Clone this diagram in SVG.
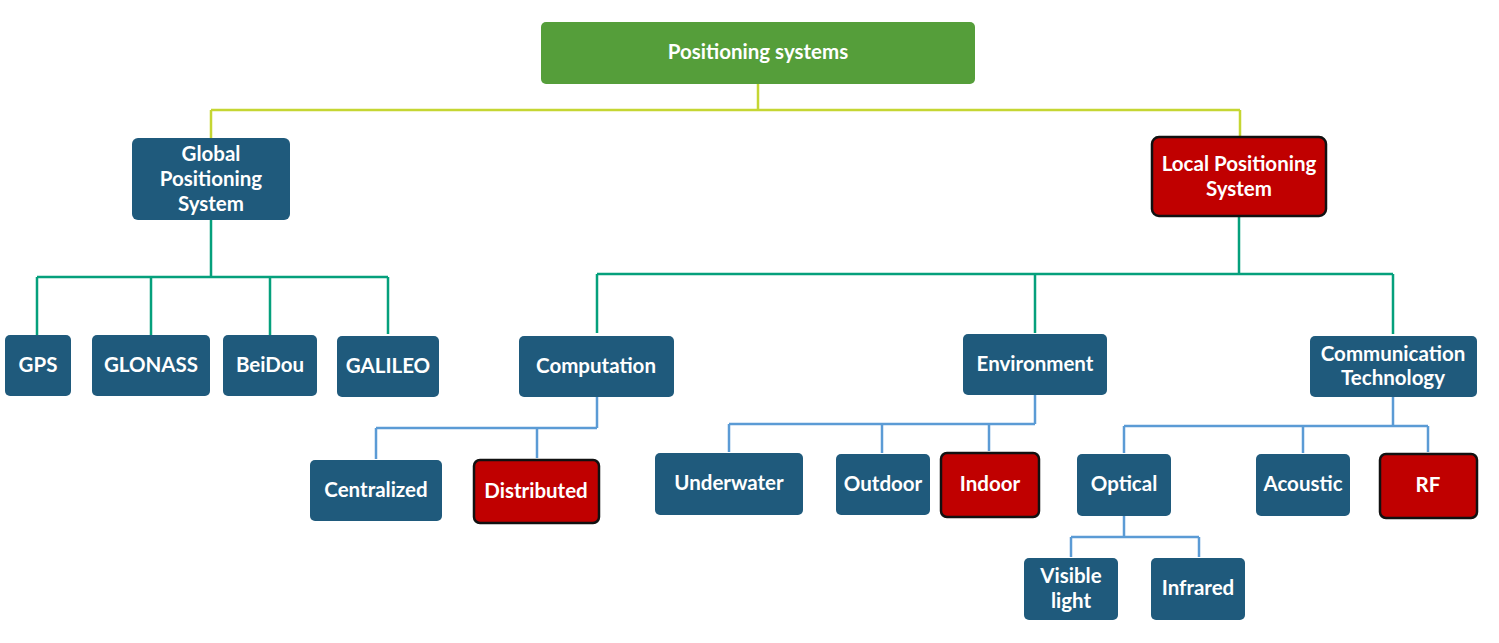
<svg xmlns="http://www.w3.org/2000/svg" width="1499" height="643" viewBox="0 0 1499 643">
<style>
.n{fill:#1F5A7C;}
.r{fill:#C00000;stroke:#111;stroke-width:2.5;}
.g{fill:#559E3A;}
text{font-family:Lato,"Open Sans","Liberation Sans",sans-serif;font-weight:bold;font-size:20.5px;fill:#fff;text-anchor:middle;}
.c1{fill:none;stroke:#C5D633;stroke-width:2.5;}
.c2{fill:none;stroke:#05A07C;stroke-width:2.5;}
.c3{fill:none;stroke:#5B9BD5;stroke-width:2.5;}
</style>
<rect width="1499" height="643" fill="#fff"/>
<g id="connectors">
<path class="c1" d="M758,84 V110 M211,110 H1240 M211,110 V138 M1240,110 V137"/>
<path class="c2" d="M211,220 V277 M37,277 H388 M37,277 V335 M151,277 V335 M270,277 V335 M388,277 V334"/>
<path class="c2" d="M1239,216 V274 M597,274 H1393 M597,274 V333 M1035,274 V333 M1393,274 V334"/>
<path class="c3" d="M597,397 V428 M376,428 H597 M376,428 V459 M537,428 V458"/>
<path class="c3" d="M1035,395 V424 M729,424 H1035 M729,424 V452 M882,424 V453 M989,424 V451"/>
<path class="c3" d="M1393,397 V426 M1124,426 H1428 M1124,426 V453 M1303,426 V453 M1428,426 V452"/>
<path class="c3" d="M1124,516 V537 M1071,537 H1199 M1071,537 V557 M1199,537 V557"/>
</g>
<g id="root"><rect class="g" x="541" y="22" width="434" height="62" rx="5"/><text x="758" y="59">Positioning systems</text></g>
<g id="gps-system"><rect class="n" x="132" y="138" width="158" height="82" rx="6"/><text x="211" y="161">Global</text><text x="211" y="186">Positioning</text><text x="211" y="211">System</text></g>
<g id="lps"><rect class="r" x="1152" y="137" width="174" height="79" rx="7"/><text x="1239" y="171">Local Positioning</text><text x="1239" y="196">System</text></g>
<g id="gps"><rect class="n" x="5" y="335" width="66" height="61" rx="5"/><text x="38" y="372">GPS</text></g>
<g id="glonass"><rect class="n" x="92" y="335" width="118" height="61" rx="5"/><text x="151" y="372">GLONASS</text></g>
<g id="beidou"><rect class="n" x="223" y="335" width="94" height="61" rx="5"/><text x="270" y="372">BeiDou</text></g>
<g id="galileo"><rect class="n" x="337" y="336" width="102" height="61" rx="5"/><text x="388" y="373">GALILEO</text></g>
<g id="computation"><rect class="n" x="519" y="336" width="155" height="61" rx="5"/><text x="596" y="373">Computation</text></g>
<g id="environment"><rect class="n" x="963" y="334" width="144" height="61" rx="5"/><text x="1035" y="371">Environment</text></g>
<g id="comm"><rect class="n" x="1310" y="336" width="167" height="61" rx="5"/><text x="1393" y="361">Communication</text><text x="1393" y="385">Technology</text></g>
<g id="centralized"><rect class="n" x="310" y="460" width="132" height="61" rx="5"/><text x="376" y="497">Centralized</text></g>
<g id="distributed"><rect class="r" x="474" y="460" width="125" height="63" rx="6"/><text x="536" y="498">Distributed</text></g>
<g id="underwater"><rect class="n" x="655" y="453" width="148" height="62" rx="5"/><text x="729" y="490">Underwater</text></g>
<g id="outdoor"><rect class="n" x="836" y="454" width="94" height="61" rx="5"/><text x="883" y="491">Outdoor</text></g>
<g id="indoor"><rect class="r" x="941" y="453" width="98" height="64" rx="6"/><text x="990" y="491">Indoor</text></g>
<g id="optical"><rect class="n" x="1077" y="454" width="94" height="62" rx="5"/><text x="1124" y="491">Optical</text></g>
<g id="acoustic"><rect class="n" x="1256" y="454" width="94" height="62" rx="5"/><text x="1303" y="491">Acoustic</text></g>
<g id="rf"><rect class="r" x="1380" y="454" width="97" height="64" rx="6"/><text x="1428" y="492">RF</text></g>
<g id="visible"><rect class="n" x="1024" y="558" width="94" height="62" rx="5"/><text x="1071" y="583">Visible</text><text x="1071" y="608">light</text></g>
<g id="infrared"><rect class="n" x="1151" y="558" width="94" height="62" rx="5"/><text x="1198" y="595">Infrared</text></g>
</svg>
